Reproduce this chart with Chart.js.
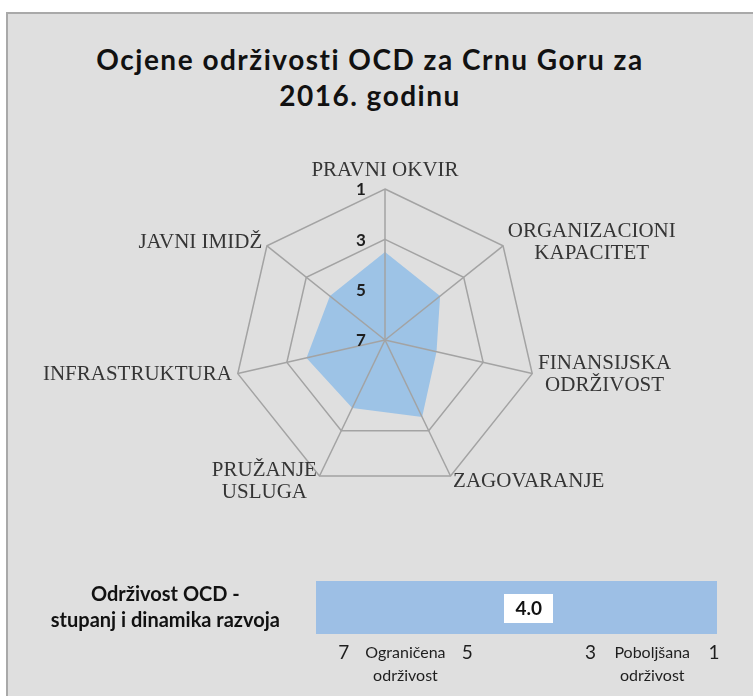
<!DOCTYPE html>
<html lang="sr">
<head>
  <meta charset="UTF-8">
  <title>Ocjene održivosti OCD za Crnu Goru za 2016. godinu</title>
  <script src="https://cdn.jsdelivr.net/npm/chart.js@4.4.0/dist/chart.umd.min.js"></script>
  <style>
    body {
      margin: 0;
      background: #fff;
      width: 753px;
      height: 696px;
      overflow: hidden;
      position: relative;
    }
    .okvir {
      position: absolute;
      left: 6px;
      top: 12px;
      width: 780px;
      height: 720px;
      background: #dfdfdf;
      border-left: 2px solid #a9a9a9;
      border-top: 2px solid #a9a9a9;
    }
    .naslov {
      position: absolute;
      left: 0;
      top: 41px;
      width: 740px;
      text-align: center;
      font: bold 28px Lato, sans-serif;
      letter-spacing: 1.5px;
      line-height: 36px;
      color: #111;
    }
    #radar { position: absolute; left: 0; top: 0; }
    #traka { position: absolute; left: 0; top: 560px; }
  </style>
</head>
<body>
  <div class="okvir"></div>
  <div class="naslov">Ocjene održivosti OCD za Crnu Goru za<br>2016. godinu</div>
  <canvas id="radar" width="753" height="540"></canvas>
  <canvas id="traka" width="753" height="136"></canvas>

  <script>
    // podaci
    const kategorije = [
      'PRAVNI OKVIR',
      ['ORGANIZACIONI', 'KAPACITET'],
      ['FINANSIJSKA', 'ODRŽIVOST'],
      'ZAGOVARANJE',
      ['PRUŽANJE', 'USLUGA'],
      'INFRASTRUKTURA',
      'JAVNI IMIDŽ'
    ];
    const ocjene = [3.5, 4.2, 4.9, 3.6, 4.0, 3.8, 4.2];
    const skala = [7, 5, 3, 1];

    const ukupnaOcjena = 4.0;
    const raspon = [7.45, 0.95];
    const osovina = [7, 6, 5, 3, 2, 1];
    const osovinaNatpisi = ['7', ['Ograničena', 'održivost'], '5', '3', ['Poboljšana', 'održivost'], '1'];

    const plava = '#9dc3e6';
    const siva = '#a3a3a3';

    Chart.defaults.font.family = 'Lato';

    // natpisi radara (brojevi skale i nazivi kategorija)
    const radarTekst = {
      id: 'radarTekst',
      afterDraw(chart) {
        const r = chart.scales.r;
        const ctx = chart.ctx;
        ctx.save();
        ctx.textBaseline = 'middle';
        ctx.textAlign = 'center';

        ctx.font = 'bold 17px Lato';
        ctx.fillStyle = '#1e1e1e';
        skala.forEach(v => {
          const p = r.getPointPositionForValue(0, v);
          ctx.fillText(String(v), p.x - 24, p.y + 1);
        });

        ctx.font = '21px "Liberation Serif"';
        ctx.fillStyle = '#353535';
        const lh = 22;
        chart.data.labels.forEach((lab, i) => {
          const lines = [].concat(lab);
          const p = r.getPointPosition(i, r.drawingArea + 6);
          const w = Math.max(...lines.map(t => ctx.measureText(t).width));
          const h = lines.length * lh;
          const dx = p.x - r.xCenter;
          let cx, top;
          if (Math.abs(dx) < 2) {
            cx = p.x;
            top = p.y < r.yCenter ? p.y - h - 2 : p.y;
          } else {
            cx = dx > 0 ? p.x + w / 2 : p.x - w / 2;
            top = p.y - h / 2;
          }
          lines.forEach((t, k) => ctx.fillText(t, cx, top + lh / 2 + k * lh));
        });
        ctx.restore();
      }
    };

    new Chart(document.getElementById('radar'), {
      type: 'radar',
      data: {
        labels: kategorije,
        datasets: [{
          data: ocjene,
          backgroundColor: plava,
          borderWidth: 0,
          pointRadius: 0,
          fill: 'start'
        }]
      },
      options: {
        responsive: false,
        animation: false,
        layout: { padding: { left: 234, top: 189, right: 217, bottom: 49 } },
        plugins: { legend: { display: false }, tooltip: { enabled: false } },
        scales: {
          r: {
            min: 1,
            max: 7,
            reverse: true,
            afterBuildTicks: s => { s.ticks = skala.map(v => ({ value: v })); },
            ticks: { display: false },
            pointLabels: { display: false },
            grid: {
              z: 1,
              lineWidth: 1.5,
              color: c => (c.tick && c.tick.value === 5) ? 'rgba(0,0,0,0)' : siva
            },
            angleLines: { color: siva, lineWidth: 1.5 }
          }
        }
      },
      plugins: [radarTekst]
    });

    // oznaka ukupne ocjene na traci
    const ocjenaNatpis = {
      id: 'ocjenaNatpis',
      afterDatasetsDraw(chart) {
        const x = chart.scales.x.getPixelForValue(ukupnaOcjena);
        const y = chart.scales.y.getPixelForValue(0);
        const ctx = chart.ctx;
        ctx.save();
        ctx.fillStyle = '#fff';
        ctx.fillRect(Math.round(x - 24.5), Math.round(y - 14), 49, 29);
        ctx.fillStyle = '#111';
        ctx.font = 'bold 19px Lato';
        ctx.textAlign = 'center';
        ctx.textBaseline = 'middle';
        ctx.fillText(ukupnaOcjena.toFixed(1), x, y + 1);
        ctx.restore();
      }
    };

    new Chart(document.getElementById('traka'), {
      type: 'bar',
      data: {
        labels: [['Održivost OCD -', 'stupanj i dinamika razvoja']],
        datasets: [{
          data: [raspon],
          backgroundColor: '#9dbfe5',
          borderWidth: 0,
          barPercentage: 1,
          categoryPercentage: 1
        }]
      },
      options: {
        indexAxis: 'y',
        responsive: false,
        animation: false,
        layout: { padding: { top: 21, right: 36 } },
        plugins: { legend: { display: false }, tooltip: { enabled: false } },
        scales: {
          x: {
            min: raspon[1],
            max: raspon[0],
            reverse: true,
            grid: { display: false, drawTicks: false },
            border: { display: false },
            afterBuildTicks: s => { s.ticks = osovina.map(v => ({ value: v })); },
            afterFit: s => { s.height = 62; },
            ticks: {
              autoSkip: false,
              maxRotation: 0,
              padding: 7,
              color: '#1e1e1e',
              callback: (v, i) => osovinaNatpisi[i],
              font: c => Array.isArray(osovinaNatpisi[c.index])
                ? { family: 'Lato', size: 16, lineHeight: 1.45 }
                : { family: 'Lato', size: 19 }
            }
          },
          y: {
            grid: { display: false, drawTicks: false },
            border: { display: false },
            afterFit: s => { s.width = 316; s.paddingTop = 0; s.paddingBottom = 0; },
            ticks: {
              crossAlign: 'center',
              padding: 36,
              color: '#111',
              font: { family: 'Lato', weight: 'bold', size: 20, lineHeight: 1.3 }
            }
          }
        }
      },
      plugins: [ocjenaNatpis]
    });
  </script>
</body>
</html>
